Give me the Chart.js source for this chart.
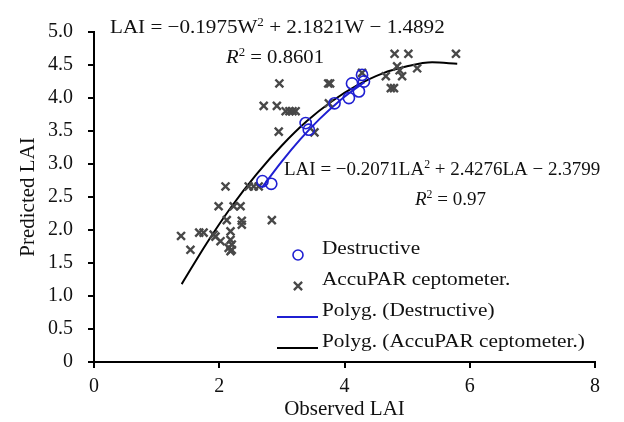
<!DOCTYPE html>
<html><head><meta charset="utf-8">
<script src="https://cdn.jsdelivr.net/npm/chart.js@4/dist/chart.umd.min.js"></script>
<style>html,body{margin:0;padding:0;background:#fff}#wrap{width:624px;height:422px}</style>
</head><body><div id="wrap"><canvas id="c" width="624" height="422"></canvas></div>
<script>
// ---- data ----
const destX = [2.69, 2.83, 3.38, 3.43, 3.84, 4.07, 4.12, 4.23, 4.28, 4.31];
const destY = [2.74, 2.70, 3.62, 3.52, 3.92, 4.00, 4.22, 4.10, 4.35, 4.25];
const accuX = [1.39, 1.54, 1.68, 1.75, 1.91, 1.94, 1.99, 2.02, 2.10, 2.12, 2.18, 2.18, 2.20, 2.15, 2.20, 2.18, 2.23, 2.34, 2.36, 2.36, 2.47, 2.55, 2.63, 2.84, 2.71, 2.92, 2.96, 2.95, 3.06, 3.12, 3.17, 3.22, 3.52, 3.74, 3.77, 3.75, 4.28, 4.80, 5.02, 5.78, 4.84, 4.88, 5.16, 4.66, 4.92, 4.74, 4.79];
const accuY = [1.91, 1.70, 1.96, 1.96, 1.93, 1.90, 2.36, 1.83, 2.66, 2.15, 1.98, 1.85, 1.78, 1.73, 1.70, 1.68, 2.36, 2.36, 2.14, 2.08, 2.66, 2.66, 2.66, 2.15, 3.88, 3.88, 4.22, 3.49, 3.80, 3.80, 3.80, 3.80, 3.48, 4.22, 4.22, 3.92, 4.38, 4.67, 4.67, 4.67, 4.48, 4.42, 4.45, 4.33, 4.33, 4.15, 4.15];
const fitDestX = [2.68, 3.0, 3.3, 3.6, 3.9, 4.1, 4.32];
const fitDestY = [2.64, 3.04, 3.38, 3.68, 3.94, 4.09, 4.24];
const fitAccuX = [1.4, 1.8, 2.2, 2.6, 3.0, 3.4, 3.8, 4.2, 4.6, 5.0, 5.4, 5.8];
const fitAccuY = [1.18, 1.80, 2.36, 2.85, 3.28, 3.65, 3.95, 4.19, 4.37, 4.48, 4.54, 4.52];
const seriesNames = ['Destructive', 'AccuPAR ceptometer.', 'Polyg. (Destructive)', 'Polyg. (AccuPAR ceptometer.)'];
const xTickValues = [0, 2, 4, 6, 8];
const yTickValues = [0, 0.5, 1, 1.5, 2, 2.5, 3, 3.5, 4, 4.5, 5];
const xTitle = 'Observed LAI';
const yTitle = 'Predicted LAI';

const BLUE = '#1f1fd2';
const GREY = '#484848';
const SERIF = '"Liberation Serif", "DejaVu Serif", serif';

const pts = (xs, ys) => xs.map((x, i) => ({x: x, y: ys[i]}));

function drawRich(ctx, x, y, parts, size, sx) {
  ctx.save();
  ctx.translate(x, y);
  ctx.scale(sx || 1, 1);
  ctx.textBaseline = 'alphabetic';
  ctx.textAlign = 'left';
  ctx.fillStyle = '#111';
  let cx = 0;
  for (const p of parts) {
    const s = p.sup ? size * 0.62 : size;
    ctx.font = (p.italic ? 'italic ' : '') + s + 'px ' + SERIF;
    ctx.fillText(p.t, cx, p.sup ? -size * 0.36 : 0);
    cx += ctx.measureText(p.t).width;
  }
  ctx.restore();
}

const annotations = {
  id: 'annotations',
  afterDraw(chart) {
    const ctx = chart.ctx;
    const fs = 19;
    drawRich(ctx, 110, 33, [{t: 'LAI = \u22120.1975W'}, {t: '2', sup: true}, {t: ' + 2.1821W \u2212 1.4892'}], fs, 1.11);
    drawRich(ctx, 226, 63, [{t: 'R', italic: true}, {t: '2', sup: true}, {t: ' = 0.8601'}], fs, 1.09);
    drawRich(ctx, 284, 175, [{t: 'LAI = \u22120.2071LA'}, {t: '2', sup: true}, {t: ' + 2.4276LA \u2212 2.3799'}], fs, 1.0);
    drawRich(ctx, 415, 205, [{t: 'R', italic: true}, {t: '2', sup: true}, {t: ' = 0.97'}], fs, 1.0);
  }
};

const customLegend = {
  id: 'customLegend',
  afterDraw(chart) {
    const ctx = chart.ctx;
    const ds = chart.data.datasets;
    const tx = 322, y0 = 254, dy = 31;
    ctx.save();
    ds.forEach((d, i) => {
      const y = y0 + i * dy;
      const my = y + 1;
      if (d.showLine) {
        ctx.strokeStyle = d.borderColor;
        ctx.lineWidth = d.borderWidth;
        ctx.beginPath(); ctx.moveTo(277, my); ctx.lineTo(318, my); ctx.stroke();
      } else if (d.pointStyle === 'circle') {
        ctx.strokeStyle = d.pointBorderColor;
        ctx.lineWidth = 1.6;
        ctx.beginPath(); ctx.arc(298, my, 5, 0, Math.PI * 2); ctx.stroke();
      } else {
        ctx.strokeStyle = d.pointBorderColor;
        ctx.lineWidth = 2.3;
        const r = 4.1;
        ctx.beginPath();
        ctx.moveTo(298 - r, my - r); ctx.lineTo(298 + r, my + r);
        ctx.moveTo(298 + r, my - r); ctx.lineTo(298 - r, my + r);
        ctx.stroke();
      }
      ctx.save();
      ctx.translate(tx, y - 5);
      ctx.scale(1.12, 1);
      ctx.fillStyle = '#111';
      ctx.font = '19px ' + SERIF;
      ctx.textBaseline = 'middle';
      ctx.textAlign = 'left';
      ctx.fillText(d.label, 0, 0);
      ctx.restore();
    });
    ctx.restore();
  }
};

new Chart(document.getElementById('c'), {
  type: 'scatter',
  data: {
    datasets: [
      {label: seriesNames[0], data: pts(destX, destY), pointStyle: 'circle', pointRadius: 5.6, pointHoverRadius: 5.6,
       pointBorderColor: BLUE, pointBackgroundColor: 'rgba(0,0,0,0)', pointBorderWidth: 1.6, showLine: false},
      {label: seriesNames[1], data: pts(accuX, accuY), pointStyle: 'crossRot', pointRadius: 5.6, pointHoverRadius: 5.6,
       pointBorderColor: GREY, pointBackgroundColor: GREY, pointBorderWidth: 2.4, showLine: false},
      {label: seriesNames[2], data: pts(fitDestX, fitDestY), showLine: true, pointRadius: 0, borderColor: BLUE,
       borderWidth: 2, cubicInterpolationMode: 'monotone', fill: false},
      {label: seriesNames[3], data: pts(fitAccuX, fitAccuY), showLine: true, pointRadius: 0, borderColor: '#000',
       borderWidth: 2, cubicInterpolationMode: 'monotone', fill: false}
    ]
  },
  options: {
    responsive: false,
    animation: false,
    events: [],
    layout: {padding: {top: 32, right: 29, left: 0, bottom: 0}},
    plugins: {legend: {display: false}, tooltip: {enabled: false}},
    scales: {
      x: {
        type: 'linear', min: 0, max: 8,
        afterFit(s) { s.height = 60; },
        afterBuildTicks(s) { s.ticks = xTickValues.map(v => ({value: v})); },
        ticks: {color: '#111', font: {family: SERIF, size: 20}, padding: 7, callback: v => String(v)},
        grid: {display: true, drawOnChartArea: false, drawTicks: true, tickLength: 6, color: '#000', lineWidth: 2},
        border: {display: true, color: '#000', width: 2},
        title: {display: true, text: xTitle, color: '#111', font: {family: SERIF, size: 21}, padding: {top: 0, bottom: 0}}
      },
      y: {
        type: 'linear', min: 0, max: 5,
        afterFit(s) { s.width = 94; },
        afterBuildTicks(s) { s.ticks = yTickValues.map(v => ({value: v})); },
        ticks: {color: '#111', font: {family: SERIF, size: 20}, padding: 15, callback: v => v === 0 ? '0' : v.toFixed(1)},
        grid: {display: true, drawOnChartArea: false, drawTicks: true, tickLength: 6, color: '#000', lineWidth: 2},
        border: {display: true, color: '#000', width: 2},
        title: {display: true, text: yTitle, color: '#111', font: {family: SERIF, size: 21}, padding: {top: 16, bottom: 0}}
      }
    }
  },
  plugins: [annotations, customLegend]
});
</script></body></html>
